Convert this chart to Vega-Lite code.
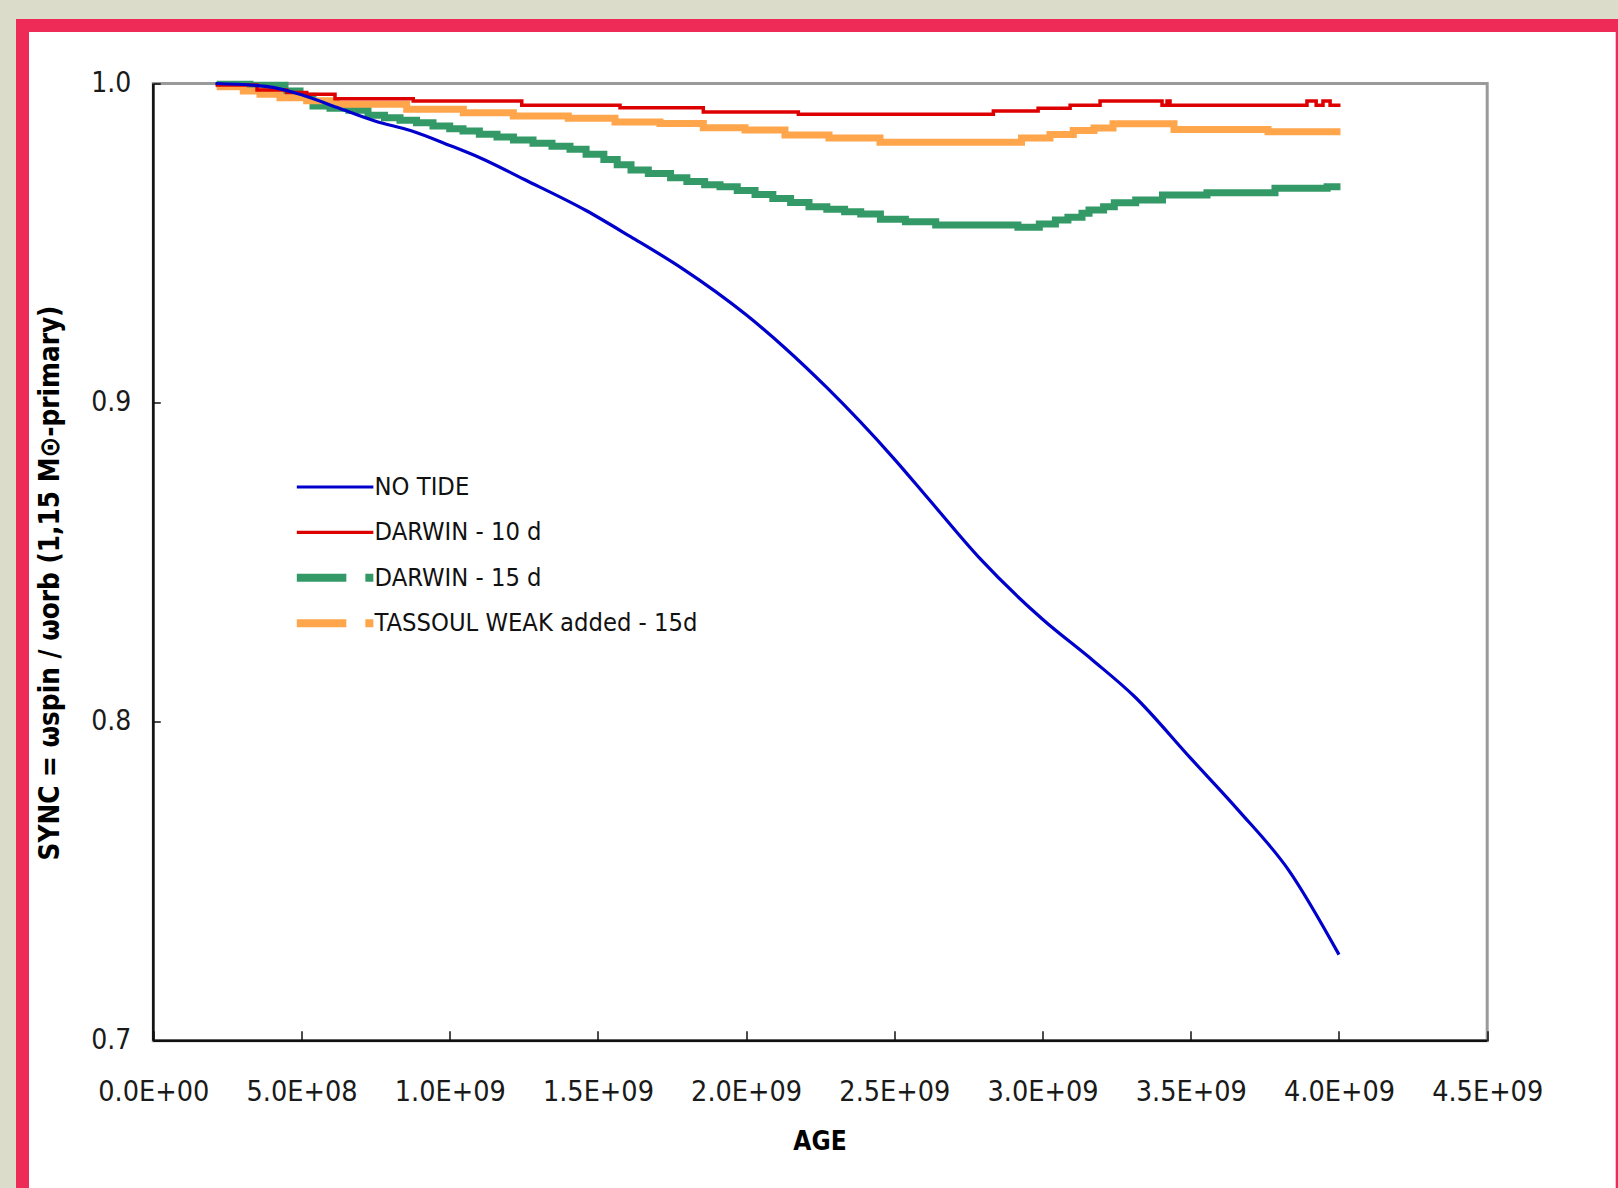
{
  "$schema": "https://vega.github.io/schema/vega-lite/v6.json",
  "autosize": {"type": "none"},
  "width": 1599.7,
  "height": 1170.5,
  "padding": {"left": 22.5, "top": 25.5, "right": -4.2, "bottom": -8},
  "background": "#dcdccb",
  "config": {
    "view": {"fill": "white", "stroke": "#EE2B56", "strokeWidth": 13},
    "font": "DejaVu Sans Condensed, DejaVu Sans, sans-serif"
  },
  "datasets": {
    "frame": [{"x0": 0, "x1": 4500000000, "y0": 0.7, "y1": 1.0}],
    "series": [
      {"series": "NO TIDE", "age": 210000000, "sync": 1.0},
      {"series": "NO TIDE", "age": 380000000, "sync": 0.9991},
      {"series": "NO TIDE", "age": 500000000, "sync": 0.9965},
      {"series": "NO TIDE", "age": 620000000, "sync": 0.9925},
      {"series": "NO TIDE", "age": 750000000, "sync": 0.9882},
      {"series": "NO TIDE", "age": 870000000, "sync": 0.9852},
      {"series": "NO TIDE", "age": 1000000000, "sync": 0.9806},
      {"series": "NO TIDE", "age": 1100000000, "sync": 0.9768},
      {"series": "NO TIDE", "age": 1250000000, "sync": 0.9700},
      {"series": "NO TIDE", "age": 1460000000, "sync": 0.9602},
      {"series": "NO TIDE", "age": 1610000000, "sync": 0.9520},
      {"series": "NO TIDE", "age": 1780000000, "sync": 0.9423},
      {"series": "NO TIDE", "age": 2000000000, "sync": 0.9275},
      {"series": "NO TIDE", "age": 2130000000, "sync": 0.9172},
      {"series": "NO TIDE", "age": 2270000000, "sync": 0.9049},
      {"series": "NO TIDE", "age": 2500000000, "sync": 0.8823},
      {"series": "NO TIDE", "age": 2620000000, "sync": 0.8693},
      {"series": "NO TIDE", "age": 2790000000, "sync": 0.8510},
      {"series": "NO TIDE", "age": 3000000000, "sync": 0.8321},
      {"series": "NO TIDE", "age": 3170000000, "sync": 0.8192},
      {"series": "NO TIDE", "age": 3310000000, "sync": 0.8079},
      {"series": "NO TIDE", "age": 3500000000, "sync": 0.7885},
      {"series": "NO TIDE", "age": 3660000000, "sync": 0.7723},
      {"series": "NO TIDE", "age": 3830000000, "sync": 0.7535},
      {"series": "NO TIDE", "age": 4000000000, "sync": 0.7270},

      {"series": "DARWIN - 10 d", "age": 210000000, "sync": 0.9995},
      {"series": "DARWIN - 10 d", "age": 350000000, "sync": 0.998},
      {"series": "DARWIN - 10 d", "age": 450000000, "sync": 0.9972},
      {"series": "DARWIN - 10 d", "age": 517500000, "sync": 0.99662},
      {"series": "DARWIN - 10 d", "age": 613000000, "sync": 0.99524},
      {"series": "DARWIN - 10 d", "age": 877000000, "sync": 0.99452},
      {"series": "DARWIN - 10 d", "age": 1243000000, "sync": 0.99317},
      {"series": "DARWIN - 10 d", "age": 1574500000, "sync": 0.99242},
      {"series": "DARWIN - 10 d", "age": 1855500000, "sync": 0.99107},
      {"series": "DARWIN - 10 d", "age": 2176000000, "sync": 0.99035},
      {"series": "DARWIN - 10 d", "age": 2834000000, "sync": 0.99138},
      {"series": "DARWIN - 10 d", "age": 2985000000, "sync": 0.99222},
      {"series": "DARWIN - 10 d", "age": 3093000000, "sync": 0.99317},
      {"series": "DARWIN - 10 d", "age": 3194000000, "sync": 0.99452},
      {"series": "DARWIN - 10 d", "age": 3403000000, "sync": 0.9932},
      {"series": "DARWIN - 10 d", "age": 3420000000, "sync": 0.9945},
      {"series": "DARWIN - 10 d", "age": 3430000000, "sync": 0.9932},
      {"series": "DARWIN - 10 d", "age": 3892000000, "sync": 0.9945},
      {"series": "DARWIN - 10 d", "age": 3923000000, "sync": 0.9932},
      {"series": "DARWIN - 10 d", "age": 3946000000, "sync": 0.9945},
      {"series": "DARWIN - 10 d", "age": 3970000000, "sync": 0.9932},
      {"series": "DARWIN - 10 d", "age": 4005000000, "sync": 0.9932},

      {"series": "DARWIN - 15 d", "age": 213800000, "sync": 0.9998},
      {"series": "DARWIN - 15 d", "age": 326200000, "sync": 0.99944},
      {"series": "DARWIN - 15 d", "age": 444300000, "sync": 0.99765},
      {"series": "DARWIN - 15 d", "age": 495000000, "sync": 0.996},
      {"series": "DARWIN - 15 d", "age": 538800000, "sync": 0.99295},
      {"series": "DARWIN - 15 d", "age": 596100000, "sync": 0.99222},
      {"series": "DARWIN - 15 d", "age": 660000000, "sync": 0.9916},
      {"series": "DARWIN - 15 d", "age": 724300000, "sync": 0.99003},
      {"series": "DARWIN - 15 d", "age": 780000000, "sync": 0.98928},
      {"series": "DARWIN - 15 d", "age": 832300000, "sync": 0.98847},
      {"series": "DARWIN - 15 d", "age": 888000000, "sync": 0.98773},
      {"series": "DARWIN - 15 d", "age": 943600000, "sync": 0.98668},
      {"series": "DARWIN - 15 d", "age": 1000000000, "sync": 0.98584},
      {"series": "DARWIN - 15 d", "age": 1044800000, "sync": 0.98511},
      {"series": "DARWIN - 15 d", "age": 1100000000, "sync": 0.98408},
      {"series": "DARWIN - 15 d", "age": 1159500000, "sync": 0.98323},
      {"series": "DARWIN - 15 d", "age": 1215000000, "sync": 0.98229},
      {"series": "DARWIN - 15 d", "age": 1281000000, "sync": 0.98126},
      {"series": "DARWIN - 15 d", "age": 1345000000, "sync": 0.9803},
      {"series": "DARWIN - 15 d", "age": 1405800000, "sync": 0.97938},
      {"series": "DARWIN - 15 d", "age": 1460000000, "sync": 0.9778},
      {"series": "DARWIN - 15 d", "age": 1520000000, "sync": 0.9762},
      {"series": "DARWIN - 15 d", "age": 1565000000, "sync": 0.9745},
      {"series": "DARWIN - 15 d", "age": 1611600000, "sync": 0.9729},
      {"series": "DARWIN - 15 d", "age": 1670000000, "sync": 0.9718},
      {"series": "DARWIN - 15 d", "age": 1745000000, "sync": 0.9705},
      {"series": "DARWIN - 15 d", "age": 1800000000, "sync": 0.9693},
      {"series": "DARWIN - 15 d", "age": 1860000000, "sync": 0.9683},
      {"series": "DARWIN - 15 d", "age": 1911800000, "sync": 0.96766},
      {"series": "DARWIN - 15 d", "age": 1970000000, "sync": 0.9665},
      {"series": "DARWIN - 15 d", "age": 2030000000, "sync": 0.9652},
      {"series": "DARWIN - 15 d", "age": 2090000000, "sync": 0.964},
      {"series": "DARWIN - 15 d", "age": 2150000000, "sync": 0.9627},
      {"series": "DARWIN - 15 d", "age": 2212000000, "sync": 0.96139},
      {"series": "DARWIN - 15 d", "age": 2272200000, "sync": 0.96057},
      {"series": "DARWIN - 15 d", "age": 2332200000, "sync": 0.9598},
      {"series": "DARWIN - 15 d", "age": 2386500000, "sync": 0.9591},
      {"series": "DARWIN - 15 d", "age": 2453000000, "sync": 0.95744},
      {"series": "DARWIN - 15 d", "age": 2537300000, "sync": 0.9567},
      {"series": "DARWIN - 15 d", "age": 2639500000, "sync": 0.95566},
      {"series": "DARWIN - 15 d", "age": 2916800000, "sync": 0.95494},
      {"series": "DARWIN - 15 d", "age": 2989000000, "sync": 0.95597},
      {"series": "DARWIN - 15 d", "age": 3043300000, "sync": 0.95722},
      {"series": "DARWIN - 15 d", "age": 3085500000, "sync": 0.95807},
      {"series": "DARWIN - 15 d", "age": 3133000000, "sync": 0.95932},
      {"series": "DARWIN - 15 d", "age": 3156700000, "sync": 0.96036},
      {"series": "DARWIN - 15 d", "age": 3205900000, "sync": 0.96139},
      {"series": "DARWIN - 15 d", "age": 3242000000, "sync": 0.96265},
      {"series": "DARWIN - 15 d", "age": 3314200000, "sync": 0.96349},
      {"series": "DARWIN - 15 d", "age": 3404600000, "sync": 0.96506},
      {"series": "DARWIN - 15 d", "age": 3554700000, "sync": 0.96578},
      {"series": "DARWIN - 15 d", "age": 3784100000, "sync": 0.96716},
      {"series": "DARWIN - 15 d", "age": 3960000000, "sync": 0.96766},
      {"series": "DARWIN - 15 d", "age": 4005000000, "sync": 0.96766},

      {"series": "TASSOUL WEAK added - 15d", "age": 213800000, "sync": 0.999},
      {"series": "TASSOUL WEAK added - 15d", "age": 303600000, "sync": 0.99765},
      {"series": "TASSOUL WEAK added - 15d", "age": 360000000, "sync": 0.99662},
      {"series": "TASSOUL WEAK added - 15d", "age": 427400000, "sync": 0.99556},
      {"series": "TASSOUL WEAK added - 15d", "age": 517500000, "sync": 0.9946},
      {"series": "TASSOUL WEAK added - 15d", "age": 618700000, "sync": 0.99348},
      {"series": "TASSOUL WEAK added - 15d", "age": 854900000, "sync": 0.99191},
      {"series": "TASSOUL WEAK added - 15d", "age": 1045800000, "sync": 0.99086},
      {"series": "TASSOUL WEAK added - 15d", "age": 1214500000, "sync": 0.98982},
      {"series": "TASSOUL WEAK added - 15d", "age": 1400000000, "sync": 0.9891},
      {"series": "TASSOUL WEAK added - 15d", "age": 1557600000, "sync": 0.98794},
      {"series": "TASSOUL WEAK added - 15d", "age": 1709400000, "sync": 0.9875},
      {"series": "TASSOUL WEAK added - 15d", "age": 1855500000, "sync": 0.98616},
      {"series": "TASSOUL WEAK added - 15d", "age": 1996200000, "sync": 0.98543},
      {"series": "TASSOUL WEAK added - 15d", "age": 2131000000, "sync": 0.98386},
      {"series": "TASSOUL WEAK added - 15d", "age": 2279500000, "sync": 0.9829},
      {"series": "TASSOUL WEAK added - 15d", "age": 2451600000, "sync": 0.9816},
      {"series": "TASSOUL WEAK added - 15d", "age": 2929000000, "sync": 0.9829},
      {"series": "TASSOUL WEAK added - 15d", "age": 3025000000, "sync": 0.984},
      {"series": "TASSOUL WEAK added - 15d", "age": 3103700000, "sync": 0.98525},
      {"series": "TASSOUL WEAK added - 15d", "age": 3173500000, "sync": 0.98605},
      {"series": "TASSOUL WEAK added - 15d", "age": 3237600000, "sync": 0.9874},
      {"series": "TASSOUL WEAK added - 15d", "age": 3443400000, "sync": 0.9856},
      {"series": "TASSOUL WEAK added - 15d", "age": 3760500000, "sync": 0.9849},
      {"series": "TASSOUL WEAK added - 15d", "age": 4005000000, "sync": 0.9849}
    ]
  },
  "encoding": {
    "x": {
      "type": "quantitative",
      "scale": {"domain": [-441263000, 4955432000], "nice": false, "zero": false},
      "axis": {
        "orient": "bottom", "offset": -155.2, "domain": false, "grid": false,
        "values": [0, 500000000, 1000000000, 1500000000, 2000000000, 2500000000, 3000000000, 3500000000, 4000000000, 4500000000],
        "tickSize": -10, "tickColor": "#111111", "tickWidth": 1.5,
        "labelPadding": 69.2, "labelBaseline": "alphabetic", "labelFontSize": 28.5, "labelColor": "#1a1a1a",
        "labelFlush": false, "labelOverlap": false,
        "labelExpr": "datum.value == 0 ? '0.0E+00' : (datum.value < 1000000000 ? format(datum.value / 100000000, '.1f') + 'E+08' : format(datum.value / 1000000000, '.1f') + 'E+09')",
        "title": "AGE", "titleX": 797, "titleY": 108.2, "titleBaseline": "alphabetic", "titleAlign": "center",
        "titleFontSize": 26, "titleFontWeight": "bold", "titleColor": "#000000", "zindex": 1
      }
    },
    "y": {
      "type": "quantitative",
      "scale": {"domain": [0.651363, 1.018176], "nice": false, "zero": false},
      "axis": {
        "orient": "left", "offset": -130.8, "domain": false, "grid": false,
        "values": [0.7, 0.8, 0.9, 1.0], "format": ".1f",
        "tickSize": -7, "tickColor": "#111111", "tickWidth": 1.5,
        "labelPadding": 29.6, "labelBaseline": "middle", "labelFontSize": 28, "labelColor": "#1a1a1a",
        "labelFlush": false, "labelOverlap": false,
        "title": "SYNC = ωspin / ωorb (1,15 M⊙-primary)", "titleX": -94.8, "titleY": 557, "titleAngle": -90,
        "titleBaseline": "alphabetic", "titleAlign": "center",
        "titleFontSize": 27.6, "titleFontWeight": "bold", "titleColor": "#000000", "zindex": 1
      }
    }
  },
  "layer": [
    {
      "data": {"name": "frame"},
      "mark": {"type": "rect", "fill": null, "stroke": "#9a9a9a", "strokeWidth": 3},
      "encoding": {
        "x": {"field": "x0", "type": "quantitative"}, "x2": {"field": "x1"},
        "y": {"field": "y0", "type": "quantitative"}, "y2": {"field": "y1"}
      }
    },
    {
      "data": {"name": "frame"},
      "mark": {"type": "rule", "color": "#111111", "strokeWidth": 2.5},
      "encoding": {
        "x": {"field": "x0", "type": "quantitative"},
        "y": {"field": "y0", "type": "quantitative"}, "y2": {"field": "y1"}
      }
    },
    {
      "data": {"name": "frame"},
      "mark": {"type": "rule", "color": "#111111", "strokeWidth": 2.5},
      "encoding": {
        "x": {"field": "x0", "type": "quantitative"}, "x2": {"field": "x1"},
        "y": {"field": "y0", "type": "quantitative"}
      }
    },
    {
      "data": {"name": "series"},
      "transform": [{"filter": "datum.series == 'DARWIN - 15 d'"}],
      "mark": {"type": "line", "interpolate": "step-after", "strokeWidth": 7},
      "encoding": {
        "x": {"field": "age", "type": "quantitative"},
        "y": {"field": "sync", "type": "quantitative"},
        "color": {"field": "series", "type": "nominal"}
      }
    },
    {
      "data": {"name": "series"},
      "transform": [{"filter": "datum.series == 'TASSOUL WEAK added - 15d'"}],
      "mark": {"type": "line", "interpolate": "step-after", "strokeWidth": 7},
      "encoding": {
        "x": {"field": "age", "type": "quantitative"},
        "y": {"field": "sync", "type": "quantitative"},
        "color": {"field": "series", "type": "nominal"}
      }
    },
    {
      "data": {"name": "series"},
      "transform": [{"filter": "datum.series == 'DARWIN - 10 d'"}],
      "mark": {"type": "line", "interpolate": "step-after", "strokeWidth": 3.5},
      "encoding": {
        "x": {"field": "age", "type": "quantitative"},
        "y": {"field": "sync", "type": "quantitative"},
        "color": {"field": "series", "type": "nominal"}
      }
    },
    {
      "data": {"name": "series"},
      "transform": [{"filter": "datum.series == 'NO TIDE'"}],
      "mark": {"type": "line", "interpolate": "monotone", "strokeWidth": 3.2},
      "encoding": {
        "x": {"field": "age", "type": "quantitative"},
        "y": {"field": "sync", "type": "quantitative"},
        "color": {
          "field": "series", "type": "nominal",
          "scale": {
            "domain": ["NO TIDE", "DARWIN - 10 d", "DARWIN - 15 d", "TASSOUL WEAK added - 15d"],
            "range": ["#0000CC", "#DD0000", "#339966", "#FFA64C"]
          },
          "legend": {
            "orient": "none", "legendX": 274.2, "legendY": 446.5, "title": null,
            "symbolType": "stroke", "symbolSize": 5929, "padding": 0,
            "symbolOffset": 25.5, "labelOffset": 27.1,
            "clipHeight": 30, "rowPadding": 15.4,
            "labelFontSize": 25.3, "labelColor": "#111111",
            "labelLimit": 600,
            "encode": {
              "symbols": {
                "update": {
                  "strokeWidth": {"signal": "(datum.value == 'DARWIN - 15 d' || datum.value == 'TASSOUL WEAK added - 15d') ? 8 : 3.2"},
                  "strokeDash": {"signal": "(datum.value == 'DARWIN - 15 d' || datum.value == 'TASSOUL WEAK added - 15d') ? [50, 19, 8, 200] : [1000, 0]"}
                }
              }
            }
          }
        }
      }
    }
  ]
}
